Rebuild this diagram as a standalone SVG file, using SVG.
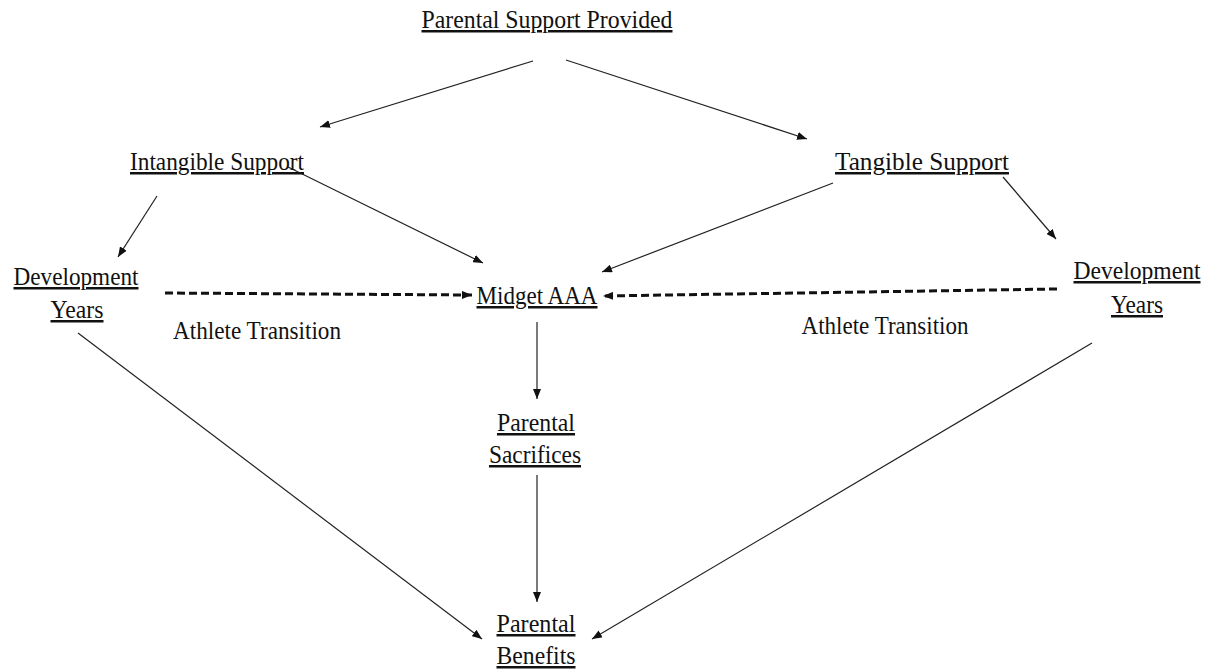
<svg xmlns="http://www.w3.org/2000/svg" width="1218" height="671" viewBox="0 0 1218 671">
<style>
text{font-family:"Liberation Serif","Times New Roman",serif;font-size:25px;fill:#111;text-anchor:middle}
.u{text-decoration:underline}
.c{stroke:#222;stroke-width:1.2;fill:none}
.d{stroke:#111;stroke-width:3;stroke-dasharray:8 4;fill:none}
</style>
<defs>
<marker id="ah" viewBox="0 0 10 8" refX="10" refY="4" markerWidth="10" markerHeight="8" markerUnits="userSpaceOnUse" orient="auto"><path d="M0,0 L10,4 L0,8 z" fill="#111"/></marker>
<marker id="ahd" viewBox="0 0 10 8" refX="10" refY="4" markerWidth="10" markerHeight="8" markerUnits="userSpaceOnUse" orient="auto"><path d="M0,0 L10,4 L0,8 z" fill="#111"/></marker>
</defs>
<rect width="1218" height="671" fill="#fff"/>
<g id="connectors">
<line class="c" x1="533" y1="61" x2="320" y2="127" marker-end="url(#ah)"/>
<line class="c" x1="566" y1="60" x2="807" y2="139" marker-end="url(#ah)"/>
<line class="c" x1="157" y1="196" x2="118" y2="257" marker-end="url(#ah)"/>
<line class="c" x1="288" y1="167" x2="483" y2="263" marker-end="url(#ah)"/>
<line class="c" x1="833" y1="183" x2="602" y2="272" marker-end="url(#ah)"/>
<line class="c" x1="1003" y1="177" x2="1056" y2="239" marker-end="url(#ah)"/>
<line class="d" x1="165" y1="293" x2="472" y2="295" marker-end="url(#ahd)"/>
<line class="d" x1="1057" y1="289" x2="603" y2="296" marker-end="url(#ahd)"/>
<line class="c" x1="78" y1="333" x2="482" y2="639" marker-end="url(#ah)"/>
<line class="c" x1="1092" y1="343" x2="592" y2="639" marker-end="url(#ah)"/>
<line class="c" x1="537" y1="322" x2="537" y2="399" marker-end="url(#ah)"/>
<line class="c" x1="537" y1="475" x2="537" y2="602" marker-end="url(#ah)"/>
</g>
<g id="parental-support-provided"><text class="u" x="547" y="28" textLength="251" lengthAdjust="spacingAndGlyphs">Parental Support Provided</text></g>
<g id="intangible-support"><text class="u" x="217" y="170" textLength="174" lengthAdjust="spacingAndGlyphs">Intangible Support</text></g>
<g id="tangible-support"><text class="u" x="922" y="170" textLength="174" lengthAdjust="spacingAndGlyphs">Tangible  Support</text></g>
<g id="development-years-left"><text class="u" x="76" y="285" textLength="125" lengthAdjust="spacingAndGlyphs">Development</text><text class="u" x="77" y="318" textLength="53" lengthAdjust="spacingAndGlyphs">Years</text></g>
<g id="development-years-right"><text class="u" x="1137" y="279" textLength="127" lengthAdjust="spacingAndGlyphs">Development</text><text class="u" x="1137" y="313" textLength="52" lengthAdjust="spacingAndGlyphs">Years</text></g>
<g id="midget-aaa"><text class="u" x="537" y="304" textLength="121" lengthAdjust="spacingAndGlyphs">Midget AAA</text></g>
<g id="athlete-transition-left"><text x="257" y="339" textLength="168" lengthAdjust="spacingAndGlyphs">Athlete Transition</text></g>
<g id="athlete-transition-right"><text x="885" y="334" textLength="167" lengthAdjust="spacingAndGlyphs">Athlete Transition</text></g>
<g id="parental-sacrifices"><text class="u" x="536" y="431" textLength="78" lengthAdjust="spacingAndGlyphs">Parental</text><text class="u" x="535" y="463" textLength="92" lengthAdjust="spacingAndGlyphs">Sacrifices</text></g>
<g id="parental-benefits"><text class="u" x="536" y="632" textLength="79" lengthAdjust="spacingAndGlyphs">Parental</text><text class="u" x="536" y="664" textLength="79" lengthAdjust="spacingAndGlyphs">Benefits</text></g>
</svg>
